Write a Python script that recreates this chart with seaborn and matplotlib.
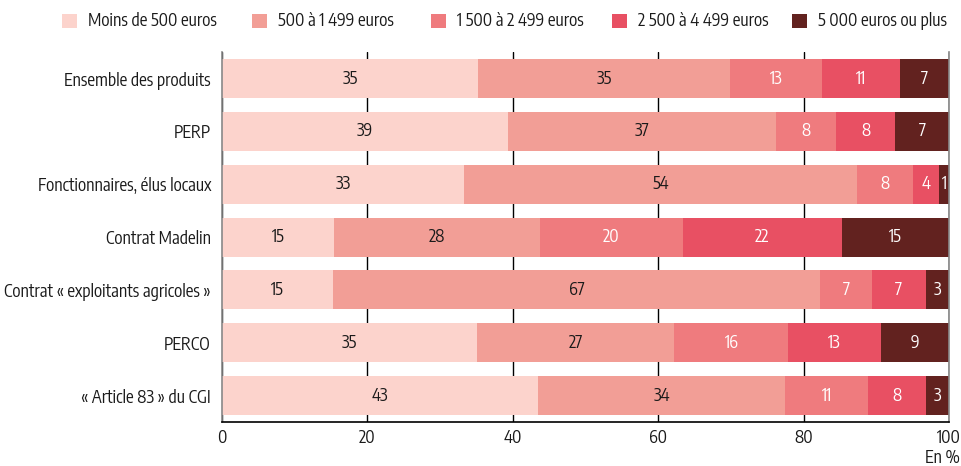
import matplotlib
matplotlib.use("Agg")
import matplotlib.pyplot as plt
import seaborn as sns
import numpy as np
import pandas as pd
from matplotlib.patches import Patch

categories = ["Ensemble des produits", "PERP", "Fonctionnaires, élus locaux",
              "Contrat Madelin", "Contrat « exploitants agricoles »", "PERCO",
              "« Article 83 » du CGI"]
series_names = ["Moins de 500 euros", "500 à 1 499 euros", "1 500 à 2 499 euros",
                "2 500 à 4 499 euros", "5 000 euros ou plus"]

# widths (the printed labels are the rounded values)
moins_500 = [35.2, 39.3, 33.3, 15.4, 15.3, 35.1, 43.4]
de_500_1499 = [34.7, 36.9, 54.0, 28.3, 67.0, 27.1, 34.1]
de_1500_2499 = [12.6, 8.3, 7.7, 19.7, 7.1, 15.7, 11.4]
de_2500_4499 = [10.8, 8.1, 3.6, 21.9, 7.4, 12.7, 7.9]
plus_5000 = [6.7, 7.4, 1.4, 14.7, 3.2, 9.4, 3.2]

colors = ["#FCD3CC", "#F29E96", "#EF7B7E", "#E85063", "#62221F"]
label_colors = ["#1a1a1a", "#1a1a1a", "white", "white", "white"]

sns.set_style("white")
plt.rcParams["font.family"] = ["Encode Sans Condensed", "DejaVu Sans"]
FS = 12.3
TXT = "#1a1a1a"

df = pd.DataFrame(dict(zip(series_names,
                           [moins_500, de_500_1499, de_1500_2499, de_2500_4499, plus_5000])),
                  index=categories)
cum = df.cumsum(axis=1)

fig = plt.figure(figsize=(9.61, 4.66), dpi=100)
ax = fig.add_axes([0.231, 0.0944, 0.7565, 0.7936])

# stacked bars: draw cumulative totals from the largest down
for i in reversed(range(len(series_names))):
    sns.barplot(x=cum.iloc[:, i].values, y=categories, color=colors[i], orient="h",
                width=0.74, saturation=1, edgecolor="none", ax=ax, zorder=2)

for i, name in enumerate(series_names):
    for j, cat in enumerate(categories):
        v = df.loc[cat, name]
        center = cum.loc[cat, name] - v / 2
        ax.text(center, j, str(int(round(v))), ha="center", va="center",
                fontsize=FS, color=label_colors[i], zorder=3)

ax.set_xlim(0, 100)
ax.set_xticks(range(0, 101, 20))
ax.set_xlabel("")
ax.set_ylabel("")
ax.set_axisbelow(True)
ax.xaxis.grid(True, color="black", lw=1)
ax.yaxis.grid(False)

ax.set_yticks(np.arange(-0.5, len(categories), 1), minor=True)
ax.tick_params(axis="y", which="major", length=0, pad=8, labelsize=FS, labelcolor=TXT)
ax.tick_params(axis="y", which="minor", length=7.5, width=1.3, color="#333333", direction="out")
ax.tick_params(axis="x", which="major", length=3, width=1, color="black", direction="out",
               labelsize=FS, labelcolor=TXT, pad=2)

ax.spines["top"].set_visible(False)
ax.spines["left"].set_color("#888888")
ax.spines["right"].set_color("#888888")
ax.spines["bottom"].set_color("black")
for s in ax.spines.values():
    s.set_linewidth(1.2)
    s.set_zorder(4)

fig.text(942 / 961, 1 - 458 / 466, "En %", ha="center", va="center", fontsize=FS, color=TXT)

# legend entries, one per column at the reference positions
legend_x = [62, 252, 431, 612, 792]
for name, c, x in zip(series_names, colors, legend_x):
    fig.legend([Patch(facecolor=c, edgecolor="none")], [name], loc="center left",
               bbox_to_anchor=(x / 961, 1 - 21.5 / 466), frameon=False,
               handlelength=0.88, handleheight=0.88, handletextpad=0.62,
               fontsize=FS, borderpad=0, borderaxespad=0, labelcolor=TXT)

fig.savefig("out.png", dpi=100)
